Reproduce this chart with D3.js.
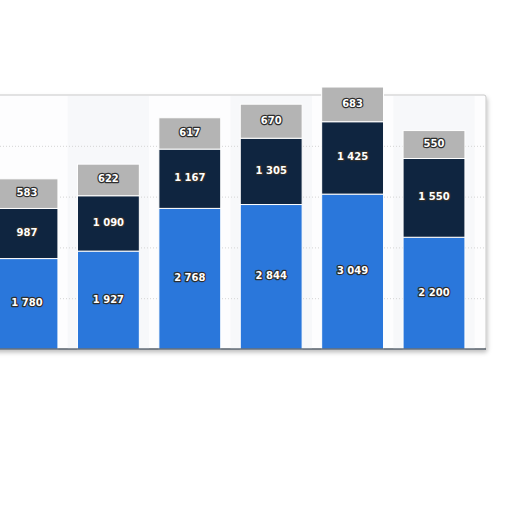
<!DOCTYPE html>
<html>
<head>
<meta charset="utf-8">
<script src="https://cdn.jsdelivr.net/npm/d3@7"></script>
<style>
  body { margin: 0; background: #fff; }
  .lbl { font-family: "DejaVu Sans", sans-serif; font-weight: bold; font-size: 10px;
         fill: #fff; stroke: #2e2e2e; stroke-width: 2.4px; paint-order: stroke; stroke-linejoin: round; }
</style>
</head>
<body>
<script>
// values, bottom to top
var categories = ["A", "B", "C", "D", "E", "F"];
var blueVals = [1780, 1927, 2768, 2844, 3049, 2200];
var navyVals = [987, 1090, 1167, 1305, 1425, 1550];
var greyVals = [583, 622, 617, 670, 683, 550];
var gridTicks = [1000, 2000, 3000, 4000];

var keys = ["blue", "navy", "grey"];
var colors = { blue: "#2a77db", navy: "#0f2540", grey: "#b4b4b4" };

var rows = categories.map(function (c, i) {
  return { cat: c, blue: blueVals[i], navy: navyVals[i], grey: greyVals[i] };
});

var width = 512, height = 512;
var svg = d3.select("body").append("svg")
  .attr("width", width).attr("height", height);

var x = d3.scaleBand().domain(categories)
  .range([-13.7, 474.7]).paddingInner(0.24).paddingOuter(0.12);
var y = d3.scaleLinear().domain([0, 5000]).range([349, 95]);

// frame with shadow
var defs = svg.append("defs");
var f = defs.append("filter").attr("id", "sh").attr("x", "-5%").attr("y", "-5%")
  .attr("width", "110%").attr("height", "115%");
f.append("feDropShadow").attr("dx", 1).attr("dy", 3).attr("stdDeviation", 2)
  .attr("flood-color", "#000").attr("flood-opacity", 0.25);

svg.append("rect")
  .attr("x", -10).attr("y", y(5000))
  .attr("width", 496).attr("height", y(0) - y(5000))
  .attr("rx", 2)
  .attr("fill", "#fdfdfe").attr("stroke", "#c8c8c8").attr("filter", "url(#sh)");

// alternating column shading
svg.append("g").selectAll("rect")
  .data(categories.filter(function (c, i) { return i % 2 === 1; }))
  .join("rect")
  .attr("x", function (d) { return x(d) - x.step() * x.paddingInner() / 2; })
  .attr("y", y(5000) + 1)
  .attr("width", x.step())
  .attr("height", y(0) - y(5000) - 1)
  .attr("fill", "#f7f8fa");

// dotted gridlines
svg.append("g").selectAll("line")
  .data(gridTicks).join("line")
  .attr("x1", 0).attr("x2", 485)
  .attr("y1", function (d) { return y(d) + 0.5; })
  .attr("y2", function (d) { return y(d) + 0.5; })
  .attr("stroke", "#d4d4d4").attr("stroke-dasharray", "1,2");

var stacked = d3.stack().keys(keys)(rows);

var layers = svg.append("g").selectAll("g")
  .data(stacked).join("g")
  .attr("fill", function (d) { return colors[d.key]; });

layers.selectAll("rect")
  .data(function (d) { return d; })
  .join("rect")
  .attr("x", function (d) { return x(d.data.cat); })
  .attr("width", x.bandwidth())
  .attr("y", function (d) { return y(d[1]); })
  .attr("height", function (d) { return y(d[0]) - y(d[1]); })
  .attr("stroke", "#fff").attr("stroke-width", 1);

// baseline
svg.append("line")
  .attr("x1", -10).attr("x2", 486)
  .attr("y1", y(0)).attr("y2", y(0))
  .attr("stroke", "#1d2a3a").attr("stroke-width", 1.2);

var fmt = function (v) { return d3.format(",")(v).replace(/,/g, " "); };

layers.selectAll("text")
  .data(function (d) { return d; })
  .join("text")
  .attr("class", "lbl")
  .attr("text-anchor", "middle")
  .attr("dominant-baseline", "central")
  .attr("x", function (d) { return x(d.data.cat) + x.bandwidth() / 2; })
  .attr("y", function (d) { return (y(d[0]) + y(d[1])) / 2 - 1; })
  .text(function (d) { return fmt(d[1] - d[0]); });
</script>
</body>
</html>
